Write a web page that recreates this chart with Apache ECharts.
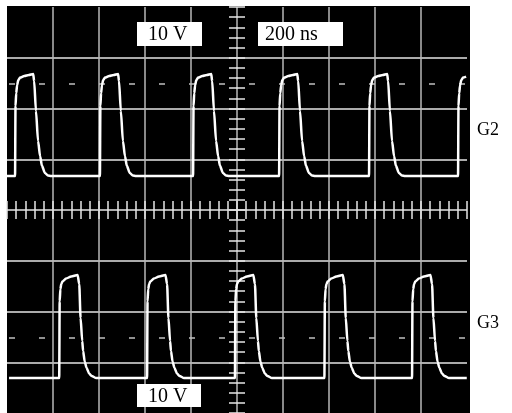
<!DOCTYPE html>
<html>
<head>
<meta charset="utf-8">
<script src="https://cdn.jsdelivr.net/npm/echarts@6/dist/echarts.min.js"></script>
<style>
html,body{margin:0;padding:0;background:#fff;}
#c{width:512px;height:413px;}
</style>
</head>
<body>
<div id="c"></div>
<script>
// time axis (ns), 200 ns / div, 10 divisions
var xTicks = [0, 200, 400, 600, 800, 1000, 1200, 1400, 1600, 1800, 2000];
// voltage axis (V), 10 V / div, 8 divisions
var yTicks = [-40, -30, -20, -10, 0, 10, 20, 30, 40];

// channel G2 trace (time ns, volts)
var g2Time = [0,
  35,37,40,44,49,57,75,95,114,118,126,135,144,152,165,178,192,
  404,406,409,413,418,426,444,464,483,487,495,504,513,521,534,547,561,
  809,811,814,818,823,831,849,869,888,892,900,909,918,926,939,952,966,
  1183,1185,1188,1192,1197,1205,1223,1243,1262,1266,1274,1283,1292,1300,1313,1326,1340,
  1574,1576,1579,1583,1588,1596,1614,1634,1653,1657,1665,1674,1683,1691,1704,1717,1731,
  1961,1963,1966,1970,1975,1983,1996];
var g2Volt = [6.7,
  6.7,20.5,23.0,24.6,25.6,26.1,26.4,26.6,26.8,25.4,19.5,13.6,10.6,8.7,7.3,6.8,6.7,
  6.7,20.5,23.0,24.6,25.6,26.1,26.4,26.6,26.8,25.4,19.5,13.6,10.6,8.7,7.3,6.8,6.7,
  6.7,20.5,23.0,24.6,25.6,26.1,26.4,26.6,26.8,25.4,19.5,13.6,10.6,8.7,7.3,6.8,6.7,
  6.7,20.5,23.0,24.6,25.6,26.1,26.4,26.6,26.8,25.4,19.5,13.6,10.6,8.7,7.3,6.8,6.7,
  6.7,20.5,23.0,24.6,25.6,26.1,26.4,26.6,26.8,25.4,19.5,13.6,10.6,8.7,7.3,6.8,6.7,
  6.7,20.5,23.0,24.6,25.6,26.1,26.3];

// channel G3 trace (time ns, volts)
var g3Time = [9,
  227,229,232,236,241,257,279,307,314,320,327,331,338,346,357,368,388,
  609,611,614,618,623,639,661,689,696,702,709,713,720,728,739,750,770,
  991,993,996,1000,1005,1021,1043,1071,1078,1084,1091,1095,1102,1110,1121,1132,1152,
  1380,1382,1385,1389,1394,1410,1432,1460,1467,1473,1480,1484,1491,1499,1510,1521,1541,
  1761,1763,1766,1770,1775,1791,1813,1841,1848,1854,1861,1865,1872,1880,1891,1902,1922,
  1999];
var g3Volt = [-33.1,
  -33.1,-18.0,-15.6,-14.6,-14.1,-13.5,-13.1,-12.8,-14.6,-21.3,-25.8,-27.8,-29.9,-31.1,-32.2,-32.7,-33.1,
  -33.1,-18.0,-15.6,-14.6,-14.1,-13.5,-13.1,-12.8,-14.6,-21.3,-25.8,-27.8,-29.9,-31.1,-32.2,-32.7,-33.1,
  -33.1,-18.0,-15.6,-14.6,-14.1,-13.5,-13.1,-12.8,-14.6,-21.3,-25.8,-27.8,-29.9,-31.1,-32.2,-32.7,-33.1,
  -33.1,-18.0,-15.6,-14.6,-14.1,-13.5,-13.1,-12.8,-14.6,-21.3,-25.8,-27.8,-29.9,-31.1,-32.2,-32.7,-33.1,
  -33.1,-18.0,-15.6,-14.6,-14.1,-13.5,-13.1,-12.8,-14.6,-21.3,-25.8,-27.8,-29.9,-31.1,-32.2,-32.7,-33.1,
  -33.1];

// dashed reference levels (V)
var g2Ref = 24.8;
var g3Ref = -25.2;

// labels
var voltLabel = '10 V';
var timeLabel = '200 ns';
var chanLabels = ['G2', 'G3'];

function pairs(t, v) { return t.map(function (x, i) { return [x, v[i]]; }); }

var chart = echarts.init(document.getElementById('c'), null, {renderer: 'canvas'});
var xMin = xTicks[0], xMax = xTicks[xTicks.length - 1], xInt = xTicks[1] - xTicks[0];
var yMin = yTicks[0], yMax = yTicks[yTicks.length - 1], yInt = yTicks[1] - yTicks[0];
var serif = '"Liberation Serif", "DejaVu Serif", serif';

function centerX(inside) {
  return {
    type: 'value', min: xMin, max: xMax, interval: xInt, position: 'bottom', offset: -203,
    axisLine: {show: false}, axisLabel: {show: false}, splitLine: {show: false},
    axisTick: {show: true, inside: inside, length: 9, lineStyle: {color: '#e6e6e6', width: 1.5}},
    minorTick: {show: true, splitNumber: 5, length: 9, lineStyle: {color: '#e6e6e6', width: 1.5}}
  };
}
function centerY(inside) {
  return {
    type: 'value', min: yMin, max: yMax, interval: yInt, position: 'left', offset: -230,
    axisLine: {show: false}, axisLabel: {show: false}, splitLine: {show: false},
    axisTick: {show: true, inside: inside, length: 8, lineStyle: {color: '#e6e6e6', width: 1.5}},
    minorTick: {show: true, splitNumber: 5, length: 8, lineStyle: {color: '#e6e6e6', width: 1.5}}
  };
}
function box(x, y, w, h, txt, tx) {
  return {
    type: 'group', z: 100,
    children: [
      {type: 'rect', shape: {x: x, y: y, width: w, height: h}, style: {fill: '#fff'}, z: 100},
      {type: 'text', x: tx, y: y + h / 2 + 1, z: 101,
       style: {text: txt, fill: '#000', font: '20px ' + serif, verticalAlign: 'middle'}}
    ]
  };
}

chart.setOption({
  animation: false,
  backgroundColor: '#fff',
  grid: {left: 7, top: 7, width: 460, height: 406, containLabel: false},
  xAxis: [
    {type: 'value', min: xMin, max: xMax, interval: xInt,
     axisLine: {show: false}, axisTick: {show: false}, axisLabel: {show: false},
     splitLine: {show: true, showMinLine: false, showMaxLine: false, lineStyle: {color: '#b8b8b8', width: 1.5}}},
    centerX(true), centerX(false)
  ],
  yAxis: [
    {type: 'value', min: yMin, max: yMax, interval: yInt,
     axisLine: {show: false}, axisTick: {show: false}, axisLabel: {show: false},
     splitLine: {show: true, showMinLine: false, showMaxLine: false, lineStyle: {color: '#e4e4e4', width: 1.5}}},
    centerY(true), centerY(false)
  ],
  graphic: [
    {type: 'rect', z: -100, silent: true, shape: {x: 7, y: 6, width: 463, height: 420}, style: {fill: '#000'}},
    box(137, 22, 65, 24, voltLabel, 148),
    box(258, 22, 85, 24, timeLabel, 265),
    box(137, 384, 64, 23, voltLabel, 148),
    {type: 'text', x: 477, y: 130, z: 100, style: {text: chanLabels[0], fill: '#000', font: '18px ' + serif, verticalAlign: 'middle'}},
    {type: 'text', x: 477, y: 323, z: 100, style: {text: chanLabels[1], fill: '#000', font: '18px ' + serif, verticalAlign: 'middle'}}
  ],
  series: [
    {name: 'G2', type: 'line', xAxisIndex: 0, yAxisIndex: 0, data: pairs(g2Time, g2Volt),
     symbol: 'none', smooth: 0.25, smoothMonotone: 'x', z: 5,
     lineStyle: {color: '#fff', width: 2.5},
     markLine: {silent: true, symbol: 'none', label: {show: false},
       lineStyle: {color: '#c0c0c0', width: 1.5, type: [6, 24], dashOffset: -2},
       data: [{yAxis: g2Ref}]}},
    {name: 'G3', type: 'line', xAxisIndex: 0, yAxisIndex: 0, data: pairs(g3Time, g3Volt),
     symbol: 'none', smooth: 0.25, smoothMonotone: 'x', z: 5,
     lineStyle: {color: '#fff', width: 2.5},
     markLine: {silent: true, symbol: 'none', label: {show: false},
       lineStyle: {color: '#c0c0c0', width: 1.5, type: [6, 24], dashOffset: -2},
       data: [{yAxis: g3Ref}]}}
  ]
});
</script>
</body>
</html>
